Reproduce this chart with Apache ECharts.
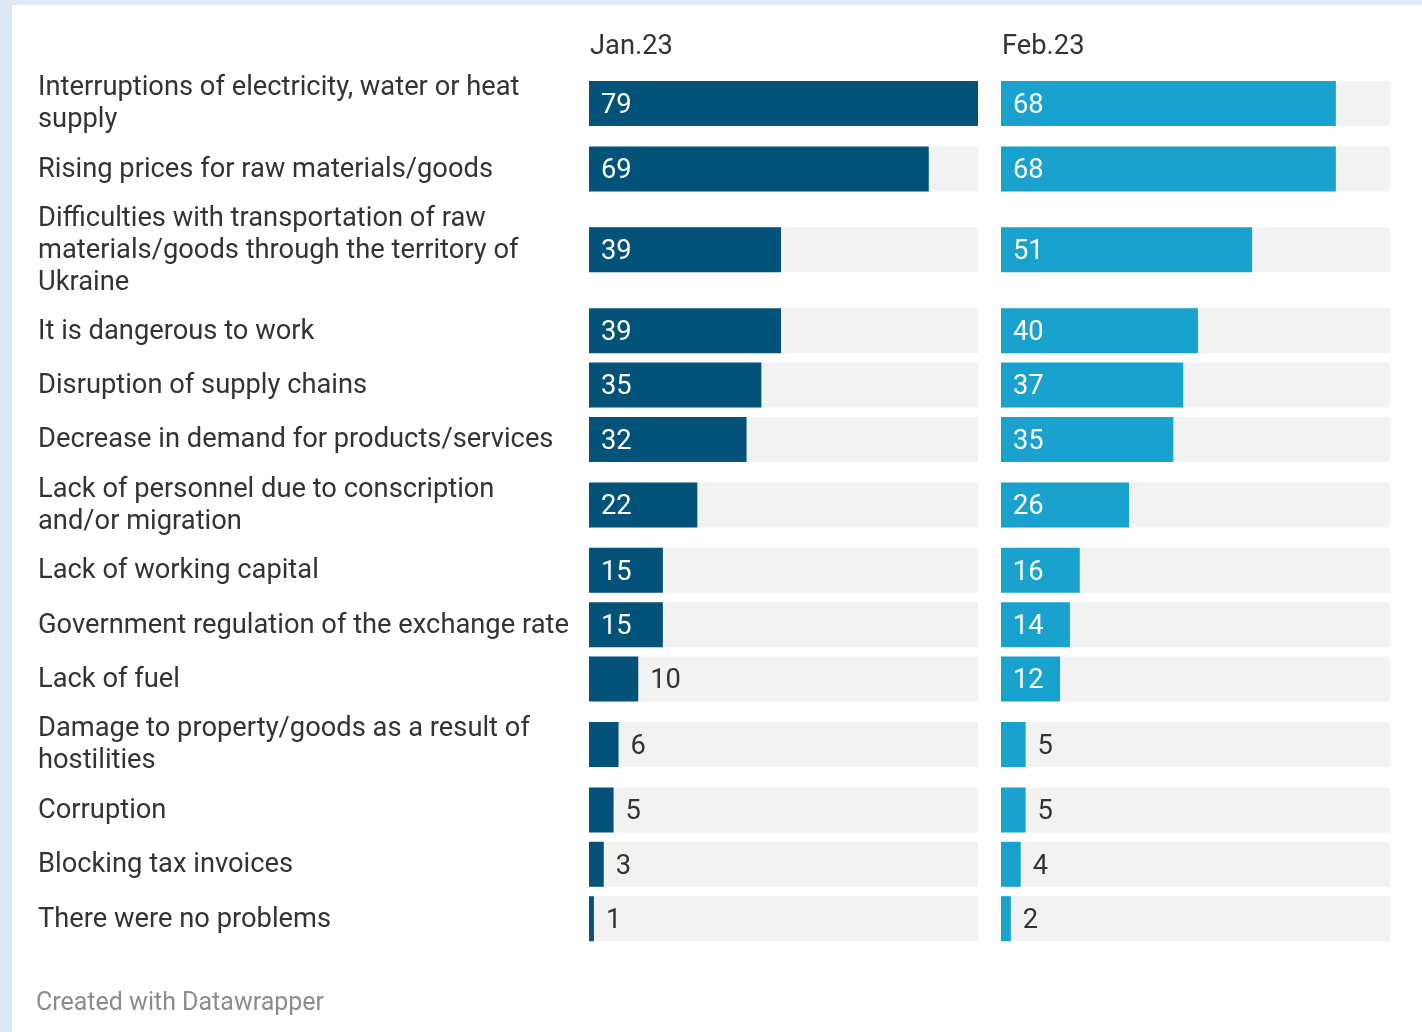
<!DOCTYPE html>
<html>
<head>
<meta charset="utf-8">
<script src="https://cdn.jsdelivr.net/npm/echarts@6/dist/echarts.min.js"></script>
<style>
  html, body { margin: 0; padding: 0; background: #dde9f5; width: 1422px; height: 1032px; overflow: hidden; }
  #chart { position: absolute; left: 12px; top: 5px; width: 1410px; height: 1027px; background: #ffffff; }
</style>
</head>
<body>
<div id="chart"></div>
<script>
const categories = [
  "Interruptions of electricity, water or heat\nsupply",
  "Rising prices for raw materials/goods",
  "Difficulties with transportation of raw\nmaterials/goods through the territory of\nUkraine",
  "It is dangerous to work",
  "Disruption of supply chains",
  "Decrease in demand for products/services",
  "Lack of personnel due to conscription\nand/or migration",
  "Lack of working capital",
  "Government regulation of the exchange rate",
  "Lack of fuel",
  "Damage to property/goods as a result of\nhostilities",
  "Corruption",
  "Blocking tax invoices",
  "There were no problems"
];
const seriesNames = ["Jan.23", "Feb.23"];
const jan23 = [79, 69, 39, 39, 35, 32, 22, 15, 15, 10, 6, 5, 3, 1];
const feb23 = [68, 68, 51, 40, 37, 35, 26, 16, 14, 12, 5, 5, 4, 2];
const footerText = "Created with Datawrapper";

const FONT = "Roboto";
const FS = 27.3;
const LINE_H = 32;
const BAR_H = 45;
const GAP = 9.4;
const TOP0 = 65;
const CHART_H = 1027;
const MAXV = Math.max(...jan23, ...feb23);

// row centers from line counts of the labels
const centers = [];
let yCursor = TOP0;
categories.forEach(c => {
  const lines = c.split("\n").length;
  const h = lines === 1 ? BAR_H : lines * 31 + 5;
  centers.push(yCursor + h / 2);
  yCursor += h + GAP;
});

function makeRender(vals, color, withLabels) {
  return function (params, api) {
    const idx = params.dataIndex;
    const v = api.value(0);
    const cy = api.value(1);
    const p0 = api.coord([0, cy]);
    const pm = api.coord([MAXV, cy]);
    const p1 = api.coord([v, cy]);
    const top = p0[1] - BAR_H / 2;
    const barW = p1[0] - p0[0];
    const txt = String(v);
    const textW = txt.length * 0.562 * FS;
    const inside = barW >= textW + 24;
    const children = [
      { type: 'rect', shape: { x: p0[0], y: top, width: pm[0] - p0[0], height: BAR_H }, style: { fill: '#f2f2f2' } },
      { type: 'rect', shape: { x: p0[0], y: top, width: barW, height: BAR_H }, style: { fill: color } },
      { type: 'text', x: inside ? p0[0] + 12 : p1[0] + 12, y: p0[1] + 2.5,
        style: { text: txt, fill: inside ? '#ffffff' : '#333333', font: FS + 'px ' + FONT, verticalAlign: 'middle', align: 'left' } }
    ];
    if (withLabels) {
      children.push({ type: 'text', x: 26, y: p0[1] + 1,
        style: { text: categories[idx], fill: '#333333', font: FS + 'px ' + FONT, lineHeight: LINE_H, verticalAlign: 'middle', align: 'left' } });
    }
    return { type: 'group', children };
  };
}

const chart = echarts.init(document.getElementById('chart'), null, { renderer: 'canvas' });
const axisOff = { show: false, splitLine: { show: false } };
chart.setOption({
  animation: false,
  backgroundColor: '#ffffff',
  grid: [
    { left: 577, width: 389, top: 0, height: CHART_H },
    { left: 989, width: 389, top: 0, height: CHART_H }
  ],
  xAxis: [
    Object.assign({ type: 'value', min: 0, max: MAXV, gridIndex: 0 }, axisOff),
    Object.assign({ type: 'value', min: 0, max: MAXV, gridIndex: 1 }, axisOff)
  ],
  yAxis: [
    Object.assign({ type: 'value', min: 0, max: CHART_H, inverse: true, gridIndex: 0 }, axisOff),
    Object.assign({ type: 'value', min: 0, max: CHART_H, inverse: true, gridIndex: 1 }, axisOff)
  ],
  graphic: [
    { type: 'text', left: 578, top: 29, style: { text: seriesNames[0], fill: '#333333', font: FS + 'px ' + FONT } },
    { type: 'text', left: 990, top: 29, style: { text: seriesNames[1], fill: '#333333', font: FS + 'px ' + FONT } },
    { type: 'text', left: 24, top: 986, style: { text: footerText, fill: '#8c8c8c', font: '25px ' + FONT } }
  ],
  series: [
    { type: 'custom', name: seriesNames[0], xAxisIndex: 0, yAxisIndex: 0, clip: false,
      renderItem: makeRender(jan23, '#02527a', true),
      encode: { x: 0, y: 1 },
      data: jan23.map((v, i) => [v, centers[i]]) },
    { type: 'custom', name: seriesNames[1], xAxisIndex: 1, yAxisIndex: 1, clip: false,
      renderItem: makeRender(feb23, '#1aa2ce', false),
      encode: { x: 0, y: 1 },
      data: feb23.map((v, i) => [v, centers[i]]) }
  ]
});
</script>
</body>
</html>
